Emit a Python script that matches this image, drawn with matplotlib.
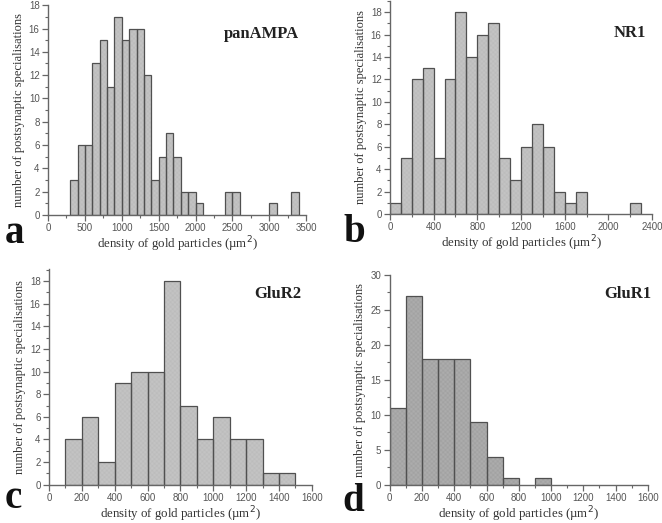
import numpy as np
import matplotlib
matplotlib.use("Agg")
import matplotlib.pyplot as plt
from matplotlib.ticker import MultipleLocator, AutoMinorLocator

# ---- data (bin width 100 µm^-2) ----
a_edges_start = 300
a_counts = [3, 6, 6, 13, 15, 11, 17, 15, 16, 16, 12, 3, 5, 7, 5, 2, 2, 1,
            0, 0, 0, 2, 2, 0, 0, 0, 0, 1, 0, 0, 2]
b_edges_start = 0
b_counts = [1, 5, 12, 13, 5, 12, 18, 14, 16, 17, 5, 3, 6, 8, 6, 2, 1, 2,
            0, 0, 0, 0, 1]
c_edges_start = 100
c_counts = [4, 6, 2, 9, 10, 10, 18, 7, 4, 6, 4, 4, 1, 1]
d_edges_start = 0
d_counts = [11, 27, 18, 18, 18, 9, 4, 1, 0, 1]
bin_width = 100

titles = ["panAMPA", "NR1", "GluR2", "GluR1"]
letters = ["a", "b", "c", "d"]
xlabel = "density of gold particles (\u00b5m$^2$)"
ylabel = "number of postsynaptic specialisations"

W, H = 662, 523
panels = [
    dict(start=a_edges_start, counts=a_counts, xlim=(0, 3500), xmaj=500, ylim=(0, 18), ymaj=2,
         pos=[0.0725, 0.589, 0.390, 0.401], hatch="x" * 26, fc="#f0f0f0", hc="#bcbcbc",
         title_xy=(299, 34), letter_xy=(5, 243)),
    dict(start=b_edges_start, counts=b_counts, xlim=(0, 2400), xmaj=400, ylim=(0, 19), ymaj=2,
         pos=[0.589, 0.591, 0.396, 0.407], hatch="x" * 26, fc="#f0f0f0", hc="#bcbcbc",
         title_xy=(646, 33), letter_xy=(343, 242)),
    dict(start=c_edges_start, counts=c_counts, xlim=(0, 1600), xmaj=200, ylim=(0, 19.1), ymaj=2,
         pos=[0.074, 0.0733, 0.397, 0.413], hatch="x" * 26, fc="#f0f0f0", hc="#bcbcbc",
         title_xy=(301, 294), letter_xy=(5, 508)),
    dict(start=d_edges_start, counts=d_counts, xlim=(0, 1600), xmaj=200, ylim=(0, 30), ymaj=5,
         pos=[0.5887, 0.0733, 0.390, 0.4014], hatch="x" * 26, fc="#e8e8e8", hc="#a2a2a2",
         title_xy=(651, 294), letter_xy=(342, 511)),
]

plt.rcParams['hatch.linewidth'] = 0.3
fig = plt.figure(figsize=(6.62, 5.23), dpi=100)
axcol = "#666666"
txtcol = "#555555"

for i, p in enumerate(panels):
    ax = fig.add_axes(p["pos"])
    counts = np.array(p["counts"])
    lefts = p["start"] + bin_width * np.arange(len(counts))
    mask = counts > 0
    ax.bar(lefts[mask], counts[mask], width=bin_width, align="edge",
           facecolor=p["fc"], edgecolor=p["hc"], hatch=p["hatch"], linewidth=0)
    ax.bar(lefts[mask], counts[mask], width=bin_width, align="edge",
           fill=False, edgecolor="#505050", linewidth=0.9)
    ax.set_xlim(*p["xlim"])
    ax.set_ylim(*p["ylim"])
    ax.xaxis.set_major_locator(MultipleLocator(p["xmaj"]))
    ax.xaxis.set_minor_locator(AutoMinorLocator(2))
    ax.yaxis.set_major_locator(MultipleLocator(p["ymaj"]))
    ax.yaxis.set_minor_locator(AutoMinorLocator(2))
    for s in ["top", "right"]:
        ax.spines[s].set_visible(False)
    for s in ["left", "bottom"]:
        ax.spines[s].set_color(axcol)
        ax.spines[s].set_linewidth(1.0)
    ax.tick_params(which="major", direction="out", length=4, width=0.9, color=axcol,
                   labelsize=7, labelcolor=txtcol, pad=2)
    ax.tick_params(which="minor", direction="out", length=2.5, width=0.8, color=axcol)
    for lab in ax.get_xticklabels() + ax.get_yticklabels():
        lab.set_fontfamily("Liberation Sans")
    ax.set_xlabel(xlabel, fontsize=9.3, family="Liberation Serif", color="#333333", labelpad=1)
    ax.set_ylabel(ylabel, fontsize=9.0, family="Liberation Serif", color="#333333", labelpad=3)
    tx, ty = p["title_xy"]
    fig.text(tx / W, 1 - ty / H, titles[i], ha="right", va="center",
             fontsize=12, fontweight="bold", family="Liberation Serif", color="#222222")
    lx, ly = p["letter_xy"]
    fig.text(lx / W, 1 - ly / H, letters[i], ha="left", va="baseline",
             fontsize=28, fontweight="bold", family="Liberation Serif", color="#111111")

fig.savefig("out.png", dpi=100, facecolor="white")
